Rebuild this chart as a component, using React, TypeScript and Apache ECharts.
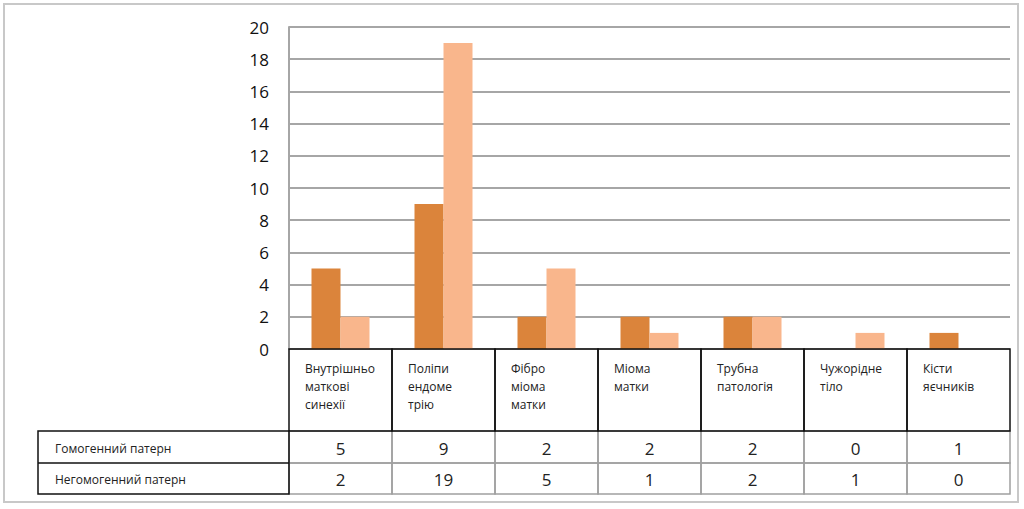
import React, { useEffect, useRef } from "react";
import * as echarts from "echarts";

const categories = [
  "Внутрішньо\nматкові\nсинехії",
  "Поліпи\nендоме\nтрію",
  "Фібро\nміома\nматки",
  "Міома\nматки",
  "Трубна\nпатологія",
  "Чужорідне\nтіло",
  "Кісти\nяєчників",
];
const seriesNames = ["Гомогенний патерн", "Негомогенний патерн"];
const homogeneous = [5, 9, 2, 2, 2, 0, 1];
const heterogeneous = [2, 19, 5, 1, 2, 1, 0];
const yMin = 0;
const yMax = 20;
const yInterval = 2;

const W = 1024;
const H = 509;
const GRID_LEFT = 289;
const GRID_RIGHT = 1010;
const GRID_TOP = 27;
const GRID_BOTTOM = 349;
const FONT = "'Open Sans', 'Noto Sans', sans-serif";

export default function App() {
  const ref = useRef<HTMLDivElement>(null);
  useEffect(() => {
    if (!ref.current) return;
    const chart = echarts.init(ref.current, undefined, { renderer: "svg" });
    chart.setOption({
      animation: false,
      backgroundColor: "#ffffff",
      grid: {
        left: GRID_LEFT,
        right: W - GRID_RIGHT,
        top: GRID_TOP,
        bottom: H - GRID_BOTTOM,
        containLabel: false,
      },
      xAxis: {
        type: "category",
        data: categories,
        axisLabel: { show: false },
        axisTick: { show: false },
        axisLine: { show: false },
      },
      yAxis: {
        type: "value",
        min: yMin,
        max: yMax,
        interval: yInterval,
        axisLine: { show: true, lineStyle: { color: "#a6a6a6", width: 2 } },
        axisTick: { show: false },
        axisLabel: {
          color: "#111",
          fontSize: 17,
          fontFamily: FONT,
          margin: 20,
        },
        splitLine: { lineStyle: { color: "#a6a6a6", width: 2 } },
      },
      series: [
        {
          name: seriesNames[0],
          type: "bar",
          data: homogeneous,
          barWidth: 29,
          barGap: "0%",
          itemStyle: { color: "#db843b" },
        },
        {
          name: seriesNames[1],
          type: "bar",
          data: heterogeneous,
          barWidth: 29,
          barGap: "0%",
          itemStyle: { color: "#f9b68c" },
        },
      ],
    });

    const n = categories.length;
    const x0 = chart.convertToPixel({ xAxisIndex: 0 }, 0) as number;
    const x1 = chart.convertToPixel({ xAxisIndex: 0 }, 1) as number;
    const catW = x1 - x0;
    const left = x0 - catW / 2;
    const right = left + catW * n;
    const headTop = chart.convertToPixel({ yAxisIndex: 0 }, 0) as number;
    const headBottom = 431;
    const row1Bottom = 463;
    const row2Bottom = 494;
    const labelLeft = 38;

    const g: any[] = [];
    // outer frame
    g.push({
      type: "rect",
      shape: { x: 4, y: 4, width: 1014, height: 498 },
      style: { fill: "none", stroke: "#c8c8c8", lineWidth: 2 },
      z: 0,
    });
    // value cells (gray)
    const rows = [homogeneous, heterogeneous];
    const rowTops = [headBottom, row1Bottom];
    const rowBots = [row1Bottom, row2Bottom];
    rows.forEach((vals, r) => {
      vals.forEach((v, i) => {
        const cx = chart.convertToPixel({ xAxisIndex: 0 }, i) as number;
        g.push({
          type: "rect",
          shape: { x: left + i * catW, y: rowTops[r], width: catW, height: rowBots[r] - rowTops[r] },
          style: { fill: "none", stroke: "#a0a0a0", lineWidth: 1.5 },
          z: 5,
        });
        g.push({
          type: "text",
          x: cx,
          y: (rowTops[r] + rowBots[r]) / 2 + 1,
          style: {
            text: String(v),
            fill: "#222",
            font: `17px ${FONT}`,
            align: "center",
            verticalAlign: "middle",
          },
          z: 10,
        });
      });
    });
    // header cells (black)
    categories.forEach((c, i) => {
      const cl = left + i * catW;
      g.push({
        type: "rect",
        shape: { x: cl, y: headTop, width: catW, height: headBottom - headTop },
        style: { fill: "none", stroke: "#111", lineWidth: 1.5 },
        z: 6,
      });
      g.push({
        type: "text",
        x: cl + 16,
        y: headTop + 10,
        style: {
          text: c,
          fill: "#222",
          font: `12px ${FONT}`,
          lineHeight: 18,
          align: "left",
          verticalAlign: "top",
        },
        z: 10,
      });
    });
    // series label box (black)
    g.push({
      type: "rect",
      shape: { x: labelLeft, y: headBottom, width: left - labelLeft, height: row2Bottom - headBottom },
      style: { fill: "none", stroke: "#111", lineWidth: 1.5 },
      z: 6,
    });
    g.push({
      type: "line",
      shape: { x1: labelLeft, y1: row1Bottom, x2: left, y2: row1Bottom },
      style: { stroke: "#111", lineWidth: 1.5 },
      z: 6,
    });
    seriesNames.forEach((s, r) => {
      g.push({
        type: "text",
        x: 55,
        y: (rowTops[r] + rowBots[r]) / 2 + 1,
        style: {
          text: s,
          fill: "#222",
          font: `12px ${FONT}`,
          align: "left",
          verticalAlign: "middle",
        },
        z: 10,
      });
    });
    chart.setOption({ graphic: g });

    return () => chart.dispose();
  }, []);
  return <div ref={ref} style={{ width: W, height: H, position: "absolute", left: 0, top: 0 }} />;
}
